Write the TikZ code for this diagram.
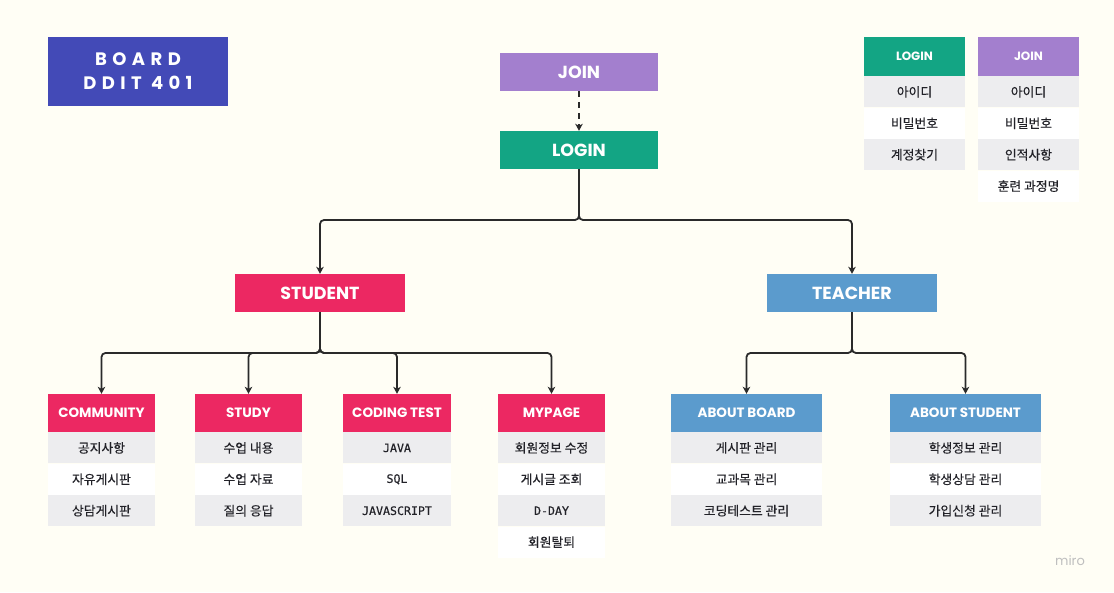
\documentclass[tikz,border=0pt]{standalone}
\usepackage{fontspec}
\usetikzlibrary{arrows.meta,positioning}
\newfontfamily\hfont{Poppins}
\newfontfamily\kfont{Noto Sans CJK KR}[FakeBold=0.35]
\newfontfamily\mfont{DejaVu Sans Mono}[FakeBold=0.45]

\definecolor{bgcol}{HTML}{FFFEF5}
\definecolor{indigo}{HTML}{434AB7}
\definecolor{joincol}{HTML}{A37FCE}
\definecolor{logincol}{HTML}{13A584}
\definecolor{studcol}{HTML}{EC2862}
\definecolor{teachcol}{HTML}{5B9BCD}
\definecolor{rowgray}{HTML}{EDEDEF}
\definecolor{inkcol}{HTML}{222228}
\definecolor{wirecol}{HTML}{2A2A2A}

\begin{document}
\begin{tikzpicture}[x=1pt,y=-1pt,
  bigbox/.style={rectangle,inner sep=0pt,minimum width=158pt,minimum height=38pt,
    text=white,font=\hfont\bfseries\fontsize{17.5}{20}\selectfont},
  colhead/.style={rectangle,inner sep=0pt,minimum height=38pt,
    text=white,font=\hfont\bfseries\fontsize{13.5}{16}\selectfont},
  tabhead/.style={rectangle,inner sep=0pt,minimum width=101pt,minimum height=39pt,
    text=white,font=\hfont\bfseries\fontsize{12}{14}\selectfont},
  rowg/.style={rectangle,inner sep=0pt,minimum height=31pt,fill=rowgray,
    text=inkcol,font=\kfont\fontsize{12.8}{15}\selectfont},
  roww/.style={rowg,fill=white},
  mono/.style={font=\mfont\fontsize{11.6}{14}\selectfont},
  wire/.style={draw=wirecol,line width=1.8pt,rounded corners=4pt,
    -{Stealth[length=7pt,width=7.5pt,inset=2pt]}},
]
% page and background
\fill[bgcol] (0,0) rectangle (1114,592);
\useasboundingbox (0,0) rectangle (1114,592);

% title block
\node[rectangle,fill=indigo,minimum width=180pt,minimum height=69pt,inner sep=0pt,
  text=white,align=center,
  font=\hfont\bfseries\fontsize{18}{24}\selectfont\addfontfeature{LetterSpace=30}]
  (title) at (138,71.5) {BOARD\\DDIT 401};

% top of the hierarchy
\node[bigbox,fill=joincol] (join) at (579,72) {JOIN};
\node[bigbox,fill=logincol] (login) at (579,150) {LOGIN};
\node[bigbox,minimum width=170pt,fill=studcol] (student) at (320,293) {STUDENT};
\node[bigbox,minimum width=170pt,fill=teachcol] (teacher) at (852,293) {TEACHER};

% student columns
\node[colhead,minimum width=107pt,fill=studcol] (comm) at (101.5,413) {COMMUNITY};
\node[rowg,minimum width=107pt,below=0pt of comm] (comm1) {공지사항};
\node[roww,minimum width=107pt,below=0pt of comm1] (comm2) {자유게시판};
\node[rowg,minimum width=107pt,below=0pt of comm2] (comm3) {상담게시판};

\node[colhead,minimum width=107pt,fill=studcol] (study) at (248.5,413) {STUDY};
\node[rowg,minimum width=107pt,below=0pt of study] (study1) {수업 내용};
\node[roww,minimum width=107pt,below=0pt of study1] (study2) {수업 자료};
\node[rowg,minimum width=107pt,below=0pt of study2] (study3) {질의 응답};

\node[colhead,minimum width=108pt,fill=studcol] (code) at (397,413) {CODING TEST};
\node[rowg,mono,minimum width=108pt,below=0pt of code] (code1) {JAVA};
\node[roww,mono,minimum width=108pt,below=0pt of code1] (code2) {SQL};
\node[rowg,mono,minimum width=108pt,below=0pt of code2] (code3) {JAVASCRIPT};

\node[colhead,minimum width=107pt,fill=studcol] (mypage) at (551.5,413) {MYPAGE};
\node[rowg,minimum width=107pt,below=0pt of mypage] (my1) {회원정보 수정};
\node[roww,minimum width=107pt,below=0pt of my1] (my2) {게시글 조회};
\node[rowg,mono,minimum width=107pt,below=0pt of my2] (my3) {D-DAY};
\node[roww,minimum width=107pt,below=0pt of my3] (my4) {회원탈퇴};

% teacher columns
\node[colhead,minimum width=151pt,fill=teachcol] (aboutb) at (746.5,413) {ABOUT BOARD};
\node[rowg,minimum width=151pt,below=0pt of aboutb] (ab1) {게시판 관리};
\node[roww,minimum width=151pt,below=0pt of ab1] (ab2) {교과목 관리};
\node[rowg,minimum width=151pt,below=0pt of ab2] (ab3) {코딩테스트 관리};

\node[colhead,minimum width=151pt,fill=teachcol] (abouts) at (965.5,413) {ABOUT STUDENT};
\node[rowg,minimum width=151pt,below=0pt of abouts] (as1) {학생정보 관리};
\node[roww,minimum width=151pt,below=0pt of as1] (as2) {학생상담 관리};
\node[rowg,minimum width=151pt,below=0pt of as2] (as3) {가입신청 관리};

% legend tables
\node[tabhead,fill=logincol] (lt) at (914.5,56.5) {LOGIN};
\node[rowg,minimum width=101pt,below=0pt of lt] (lt1) {아이디};
\node[roww,minimum width=101pt,below=0pt of lt1] (lt2) {비밀번호};
\node[rowg,minimum width=101pt,below=0pt of lt2] (lt3) {계정찾기};

\node[tabhead,fill=joincol] (jt) at (1028.5,56.5) {JOIN};
\node[rowg,minimum width=101pt,below=0pt of jt] (jt1) {아이디};
\node[roww,minimum width=101pt,below=0pt of jt1] (jt2) {비밀번호};
\node[rowg,minimum width=101pt,below=0pt of jt2] (jt3) {인적사항};
\node[roww,minimum width=101pt,below=0pt of jt3] (jt4) {훈련 과정명};

% watermark
\node[text=black!25,font=\hfont\fontsize{13}{15}\selectfont] (wm) at (1070,561) {miro};

% rail levels
\coordinate (lvlA) at (0,220);
\coordinate (lvlB) at (0,353);

% connectors
\draw[draw=wirecol,line width=1.8pt,dash pattern=on 6pt off 5pt,
  -{Stealth[length=7pt,width=7.5pt,inset=2pt]}] (join) -- (login);
\draw[wire] (login.south) -- (login.south |- lvlA) -| (student.north);
\draw[wire] (login.south) -- (login.south |- lvlA) -| (teacher.north);

\draw[wire] (student.south) -- (student.south |- lvlB) -| (comm.north);
\draw[wire] (student.south) -- (student.south |- lvlB) -| (study.north);
\draw[wire] (student.south) -- (student.south |- lvlB) -| (code.north);
\draw[wire] (student.south) -- (student.south |- lvlB) -| (mypage.north);

\draw[wire] (teacher.south) -- (teacher.south |- lvlB) -| (aboutb.north);
\draw[wire] (teacher.south) -- (teacher.south |- lvlB) -| (abouts.north);
\end{tikzpicture}
\end{document}
